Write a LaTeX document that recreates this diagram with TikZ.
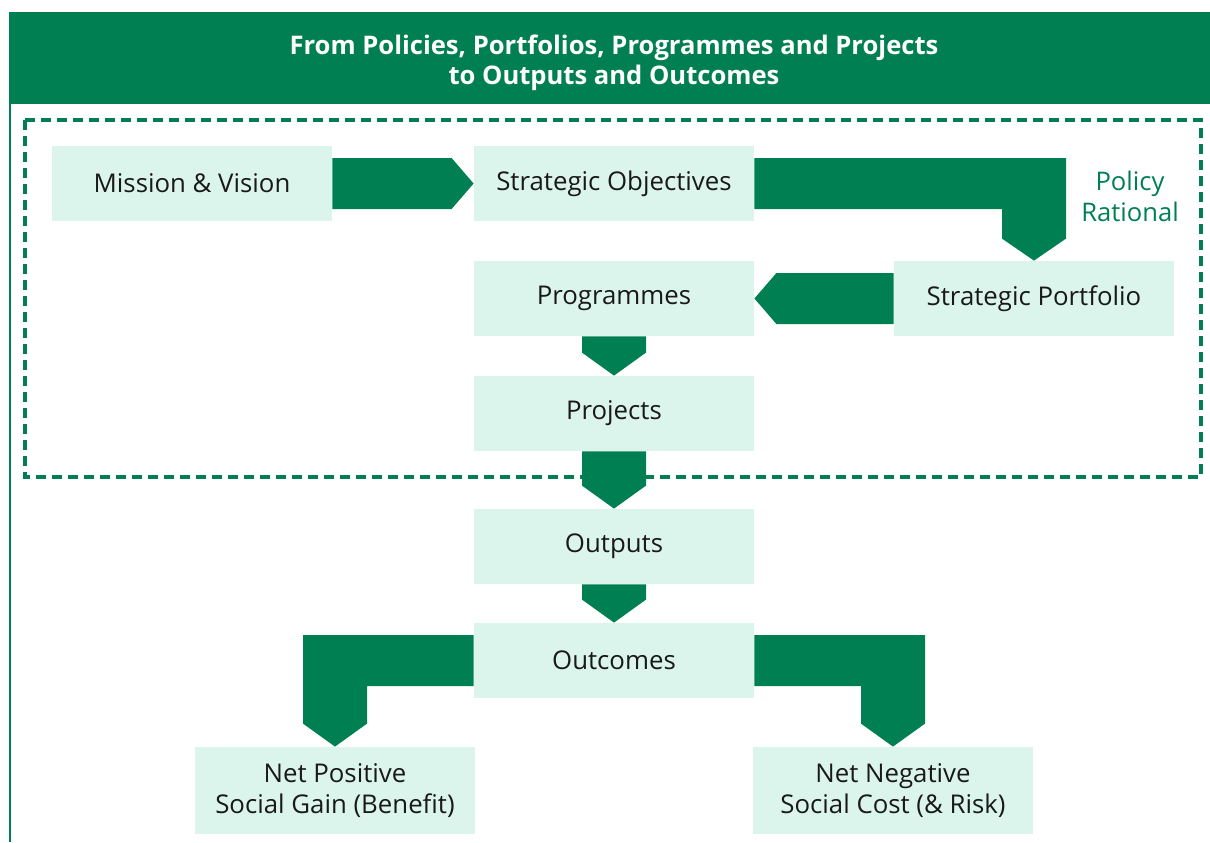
\documentclass[tikz,border=0pt]{standalone}
\usepackage{fontspec}
\setmainfont{Open Sans}
\usetikzlibrary{calc}
\definecolor{pgreen}{RGB}{0,128,82}
\definecolor{pmint}{RGB}{220,245,236}

\begin{document}
\begin{tikzpicture}[x=0.5pt, y=-0.5pt,
  box/.style={fill=pmint, minimum width=140pt, minimum height=37.5pt, inner sep=0pt,
    align=center, text=black!90, font=\fontsize{12.9}{15.5}\selectfont},
  tallbox/.style={box, minimum height=43.5pt},
  blockarrow/.style={fill=pgreen}]
  \useasboundingbox (0,0) rectangle (1210,842);
  \fill[pgreen] (9,12) rectangle (1210,104);
  \node[text=white, align=center, font=\bfseries\fontsize{12.8}{15}\selectfont] (title) at (614,63)
    {From Policies, Portfolios, Programmes and Projects\\to Outputs and Outcomes};
  \draw[pgreen, line width=1pt] (10,104) -- (10,842);
  \draw[pgreen, line width=1.6pt, dash pattern=on 5pt off 3pt] (25,120) rectangle (1201,477);

  \node[box] (mission) at (192,183.5) {Mission \& Vision};
  \node[box] (objectives) at (614,183.5) {Strategic Objectives};
  \node[box] (portfolio) at (1034,298.5) {Strategic Portfolio};
  \node[box] (programmes) at (614,298.5) {Programmes};
  \node[box] (projects) at (614,413.5) {Projects};
  \node[box] (outputs) at (614,546.5) {Outputs};
  \node[box] (outcomes) at (614,660.5) {Outcomes};
  \node[tallbox] (positive) at (335,790.5) {Net Positive\\Social Gain (Benefit)};
  \node[tallbox] (negative) at (893,790.5) {Net Negative\\Social Cost (\& Risk)};
  \node[text=pgreen, align=center, font=\fontsize{12.8}{15.5}\selectfont] (rational) at (1130,196) {Policy\\Rational};

  \fill[blockarrow] ($(mission.east)+(0,-25.5)$) -- ($(objectives.west)+(-22,-25.5)$) -- (objectives.west)
    -- ($(objectives.west)+(-22,25.5)$) -- ($(mission.east)+(0,25.5)$) -- cycle;
  \fill[blockarrow] ($(objectives.east)+(0,-25.5)$) -| ($(portfolio.north)+(32,-22)$) -- (portfolio.north)
    -- ($(portfolio.north)+(-32,-22)$) |- ($(objectives.east)+(0,25.5)$) -- cycle;
  \fill[blockarrow] ($(portfolio.west)+(0,-25.5)$) -- ($(programmes.east)+(22,-25.5)$) -- (programmes.east)
    -- ($(programmes.east)+(22,25.5)$) -- ($(portfolio.west)+(0,25.5)$) -- cycle;
  \fill[blockarrow] ($(programmes.south)+(-32,0)$) -- ($(projects.north)+(-32,-23)$) -- (projects.north)
    -- ($(projects.north)+(32,-23)$) -- ($(programmes.south)+(32,0)$) -- cycle;
  \fill[blockarrow] ($(projects.south)+(-32,0)$) -- ($(outputs.north)+(-32,-23)$) -- (outputs.north)
    -- ($(outputs.north)+(32,-23)$) -- ($(projects.south)+(32,0)$) -- cycle;
  \fill[blockarrow] ($(outputs.south)+(-32,0)$) -- ($(outcomes.north)+(-32,-23)$) -- (outcomes.north)
    -- ($(outcomes.north)+(32,-23)$) -- ($(outputs.south)+(32,0)$) -- cycle;
  \fill[blockarrow] ($(outcomes.west)+(0,-25.5)$) -| ($(positive.north)+(-32,-23)$) -- (positive.north)
    -- ($(positive.north)+(32,-23)$) |- ($(outcomes.west)+(0,25.5)$) -- cycle;
  \fill[blockarrow] ($(outcomes.east)+(0,-25.5)$) -| ($(negative.north)+(32,-23)$) -- (negative.north)
    -- ($(negative.north)+(-32,-23)$) |- ($(outcomes.east)+(0,25.5)$) -- cycle;
\end{tikzpicture}
\end{document}
